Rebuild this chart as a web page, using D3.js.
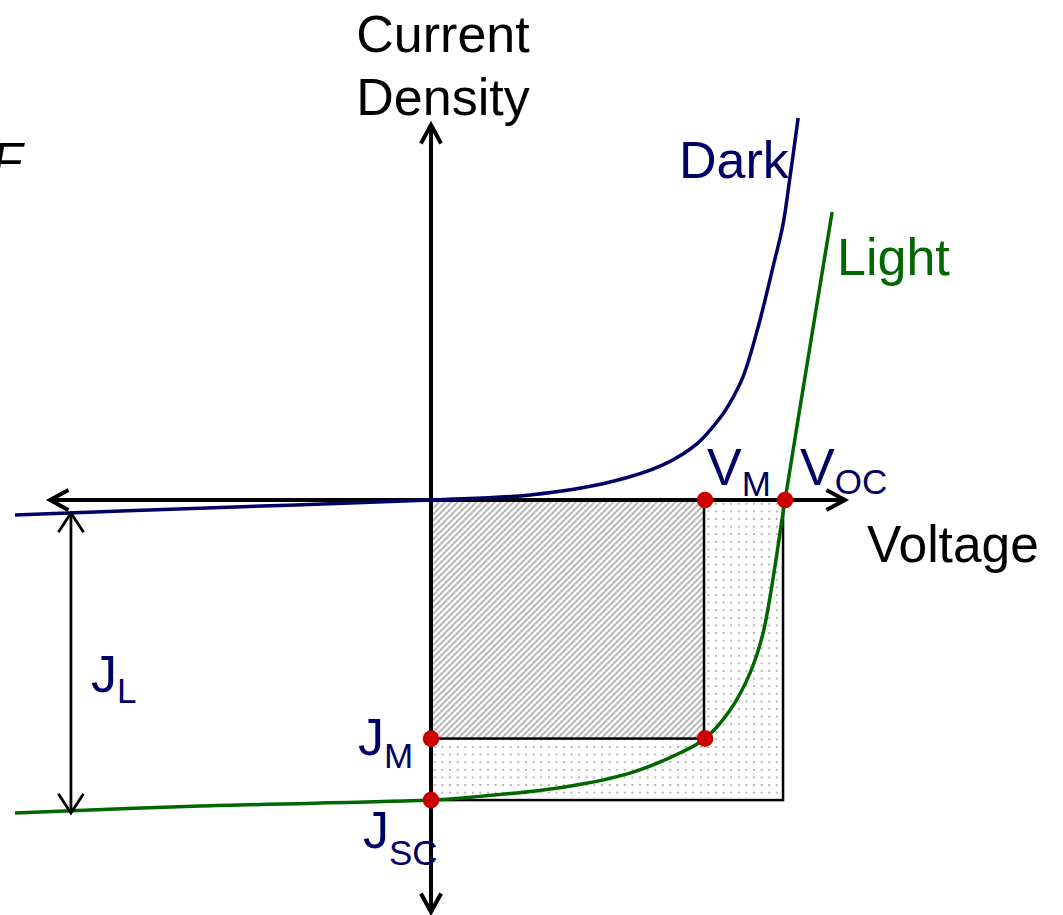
<!DOCTYPE html>
<html>
<head>
<meta charset="utf-8">
<script src="https://cdn.jsdelivr.net/npm/d3@7"></script>
<style>
  html, body { margin: 0; padding: 0; background: #fff; }
  svg { display: block; }
  text { font-family: "Liberation Sans", Arial, sans-serif; }
</style>
</head>
<body>
<svg id="chart" width="1063" height="915"></svg>
<script>
// Dark (no illumination) J–V characteristic, normalised units (V/V_OC, J/J_SC)
const darkV = [-1.175, -0.653, 0.000, 0.280, 0.506, 0.655, 0.751, 0.816, 0.839, 0.881, 0.924, 0.966, 0.994, 1.014, 1.037];
const darkJ = [-0.050, -0.027, 0.000, 0.017, 0.060, 0.117, 0.187, 0.273, 0.313, 0.410, 0.577, 0.777, 0.917, 1.077, 1.273];

// Illuminated J–V characteristic
const lightV = [-1.175, -0.653, 0.000, 0.090, 0.373, 0.562, 0.703, 0.774, 0.845, 0.901, 0.938, 1.000, 1.042, 1.133];
const lightJ = [-1.043, -1.020, -1.000, -0.993, -0.957, -0.910, -0.843, -0.795, -0.700, -0.577, -0.443, 0.000, 0.307, 0.960];

// Operating points
const pointNames = ["V_M", "V_OC", "J_M", "MPP", "J_SC"];
const pointV = [0.774, 1.000, 0.000, 0.774, 0.000];
const pointJ = [0.000, 0.000, -0.795, -0.795, -1.000];

// Axis extents
const axisV = [-1.076, 1.169];
const axisJ = [-1.373, 1.250];

// Photocurrent J_L marker position and span
const jlV = -1.017;
const jlJ = [-0.043, -1.043];

const svg = d3.select("#chart");
const x = d3.scaleLinear().domain([-1.175, 1.175]).range([15, 847]);
const y = d3.scaleLinear().domain([axisJ[0], axisJ[1]]).range([912, 125]);

const navy = "#000066";
const green = "#006600";

// Fill patterns
const defs = svg.append("defs");
const hatch = defs.append("pattern")
  .attr("id", "hatch").attr("patternUnits", "userSpaceOnUse")
  .attr("width", 4.4).attr("height", 10)
  .attr("patternTransform", "rotate(45)");
hatch.append("rect").attr("width", 4.4).attr("height", 10).attr("fill", "#fff");
hatch.append("line").attr("x1", 1.1).attr("x2", 1.1).attr("y1", 0).attr("y2", 10)
  .attr("stroke", "#adadad").attr("stroke-width", 1.8);

const dots = defs.append("pattern")
  .attr("id", "dots").attr("patternUnits", "userSpaceOnUse")
  .attr("x", 431).attr("y", 500)
  .attr("width", 7.6).attr("height", 7.6);
dots.append("rect").attr("width", 7.6).attr("height", 7.6).attr("fill", "#fff");
dots.append("circle").attr("cx", 3.8).attr("cy", 3.8).attr("r", 1)
  .attr("fill", "#a0a0a0");

// Power rectangles
const vOC = pointV[1], jSC = pointJ[4], vM = pointV[0], jM = pointJ[2];
svg.append("rect")
  .attr("x", x(0)).attr("y", y(0))
  .attr("width", x(vOC) - x(0) - 2).attr("height", y(jSC) - y(0))
  .attr("fill", "url(#dots)").attr("stroke", "#000").attr("stroke-width", 2.5);
svg.append("rect")
  .attr("x", x(0)).attr("y", y(0))
  .attr("width", x(vM) - x(0) - 1).attr("height", y(jM) - y(0))
  .attr("fill", "url(#hatch)").attr("stroke", "#000").attr("stroke-width", 2.5);

// Arrow helper: open V-shaped head at the tip
function openHead(g, tx, ty, angle, len, spread, width) {
  const a1 = angle + Math.PI - spread, a2 = angle + Math.PI + spread;
  g.append("path")
    .attr("d", `M${tx + len * Math.cos(a1)},${ty + len * Math.sin(a1)} L${tx},${ty} L${tx + len * Math.cos(a2)},${ty + len * Math.sin(a2)}`)
    .attr("fill", "none").attr("stroke", "#000").attr("stroke-width", width)
    .attr("stroke-linecap", "butt").attr("stroke-linejoin", "miter");
}

// Axes
const axes = svg.append("g");
axes.append("line")
  .attr("x1", x(axisV[0])).attr("x2", x(axisV[1])).attr("y1", y(0)).attr("y2", y(0))
  .attr("stroke", "#000").attr("stroke-width", 4);
axes.append("line")
  .attr("x1", x(0)).attr("x2", x(0)).attr("y1", y(axisJ[0])).attr("y2", y(axisJ[1]))
  .attr("stroke", "#000").attr("stroke-width", 4);
openHead(axes, x(axisV[1]), y(0), 0, 21, 0.5, 4);
openHead(axes, x(axisV[0]), y(0), Math.PI, 21, 0.5, 4);
openHead(axes, x(0), y(axisJ[1]), -Math.PI / 2, 21, 0.5, 4);
openHead(axes, x(0), y(axisJ[0]), Math.PI / 2, 21, 0.5, 4);

// Curves (centripetal Catmull–Rom through the sampled points)
const line = d3.line()
  .x(d => x(d[0])).y(d => y(d[1]))
  .curve(d3.curveCatmullRom.alpha(0.5));
svg.append("path")
  .attr("d", line(darkV.map((v, i) => [v, darkJ[i]])))
  .attr("fill", "none").attr("stroke", navy).attr("stroke-width", 3.5);
svg.append("path")
  .attr("d", line(lightV.map((v, i) => [v, lightJ[i]])))
  .attr("fill", "none").attr("stroke", green).attr("stroke-width", 3.5);

// J_L double arrow
const jl = svg.append("g");
jl.append("line")
  .attr("x1", x(jlV)).attr("x2", x(jlV)).attr("y1", y(jlJ[0])).attr("y2", y(jlJ[1]))
  .attr("stroke", "#000").attr("stroke-width", 2.8);
openHead(jl, x(jlV), y(jlJ[0]), -Math.PI / 2, 23, 0.58, 2.8);
openHead(jl, x(jlV), y(jlJ[1]), Math.PI / 2, 23, 0.58, 2.8);

// Operating-point markers
svg.append("g").selectAll("circle")
  .data(pointNames.map((n, i) => ({ n, v: pointV[i], j: pointJ[i] })))
  .join("circle")
  .attr("cx", d => x(d.v)).attr("cy", d => y(d.j)).attr("r", 8.3)
  .attr("fill", "#cc0000");

// Axis titles
svg.append("text").attr("x", 443).attr("y", 52).attr("text-anchor", "middle")
  .attr("font-size", 52).attr("fill", "#000").text("Current");
svg.append("text").attr("x", 443).attr("y", 115).attr("text-anchor", "middle")
  .attr("font-size", 52).attr("fill", "#000").text("Density");
svg.append("text").attr("x", 867).attr("y", 562)
  .attr("font-size", 51.5).attr("fill", "#000").text("Voltage");

// Curve labels
svg.append("text").attr("x", 679).attr("y", 178)
  .attr("font-size", 52).attr("fill", navy).text("Dark");
svg.append("text").attr("x", 837).attr("y", 275)
  .attr("font-size", 52).attr("fill", green).text("Light");

// Subscripted point labels
function subLabel(px, py, main, sub, dy, color) {
  const t = svg.append("text").attr("x", px).attr("y", py)
    .attr("font-size", 52).attr("fill", color);
  t.append("tspan").text(main);
  t.append("tspan").attr("font-size", 35).attr("dy", dy).text(sub);
}
subLabel(707, 485, "V", "M", 11, navy);
subLabel(800, 485, "V", "OC", 9, navy);
subLabel(358, 755, "J", "M", 13, navy);
subLabel(363, 848, "J", "SC", 17, navy);
subLabel(91, 692, "J", "L", 11, navy);

// Partial symbol at the left edge
svg.append("text").attr("x", -8).attr("y", 178)
  .attr("font-family", "Liberation Serif, serif").attr("font-style", "italic")
  .attr("font-size", 50).attr("fill", "#000").text("F");
</script>
</body>
</html>
